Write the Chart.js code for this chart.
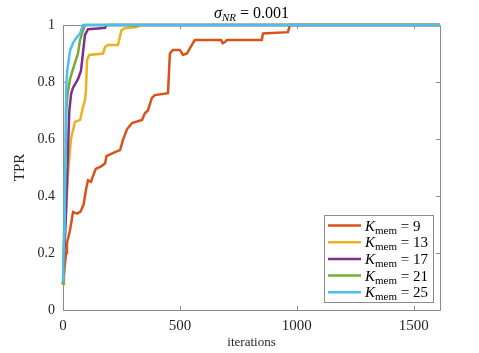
<!DOCTYPE html>
<html>
<head>
<meta charset="utf-8">
<script src="https://cdn.jsdelivr.net/npm/chart.js@4/dist/chart.umd.min.js"></script>
<style>
  html, body { margin: 0; padding: 0; background: #fff; }
</style>
</head>
<body>
<canvas id="tpr_chart" width="479" height="353"></canvas>
<script>
var kValues = [9, 13, 17, 21, 25];
var lineColors = ['#D95319', '#EDB120', '#7E2F8E', '#77AC30', '#4DBEEE'];
var xTicks = [0, 500, 1000, 1500];
var yTicks = [0, 0.2, 0.4, 0.6, 0.8, 1];
var xMax = 1612;

// iteration / TPR pairs
var k9Iter = [0, 13, 17, 30, 43, 60, 75, 88, 100, 107, 120, 128, 140, 165, 180, 186, 222, 244, 256, 274, 295, 338, 350, 363, 380, 393, 449, 457, 470, 500, 513, 530, 543, 556, 564, 676, 683, 692, 701, 850, 855, 962, 970, 1612];
var k9Tpr = [0.09, 0.2, 0.235, 0.28, 0.344, 0.338, 0.345, 0.37, 0.43, 0.455, 0.45, 0.47, 0.495, 0.505, 0.515, 0.54, 0.554, 0.561, 0.596, 0.635, 0.656, 0.667, 0.69, 0.70, 0.744, 0.754, 0.761, 0.90, 0.912, 0.912, 0.895, 0.90, 0.919, 0.937, 0.947, 0.947, 0.936, 0.94, 0.947, 0.947, 0.97, 0.975, 1.0, 1.0];

var k13Iter = [0, 4, 9, 21, 34, 51, 73, 85, 94, 98, 103, 112, 171, 180, 192, 235, 250, 265, 316, 330, 1612];
var k13Tpr = [0.09, 0.2, 0.28, 0.47, 0.6, 0.66, 0.667, 0.71, 0.737, 0.77, 0.877, 0.895, 0.90, 0.923, 0.93, 0.93, 0.982, 0.989, 0.993, 1.0, 1.0];

var k17Iter = [0, 13, 21, 27, 35, 43, 64, 77, 85, 94, 107, 150, 180, 185, 1612];
var k17Tpr = [0.09, 0.35, 0.55, 0.7, 0.76, 0.78, 0.81, 0.84, 0.90, 0.965, 0.985, 0.988, 0.99, 1.0, 1.0];

var k21Iter = [0, 9, 14, 20, 30, 51, 64, 73, 85, 94, 1612];
var k21Tpr = [0.09, 0.45, 0.7, 0.76, 0.81, 0.867, 0.90, 0.947, 0.98, 1.0, 1.0];

var k25Iter = [0, 1, 7, 9, 12, 15, 18, 30, 43, 56, 73, 85, 1612];
var k25Tpr = [0.1, 0.18, 0.28, 0.5, 0.7, 0.8, 0.84, 0.91, 0.937, 0.954, 0.97, 1.0, 1.0];

var iterLists = [k9Iter, k13Iter, k17Iter, k21Iter, k25Iter];
var tprLists = [k9Tpr, k13Tpr, k17Tpr, k21Tpr, k25Tpr];

var serif = "'Liberation Serif', 'Times New Roman', serif";
var axisGrey = '#262626';

function toPoints(iters, tprs) {
  var pts = [];
  for (var i = 0; i < iters.length; i++) {
    pts.push({ x: iters[i], y: tprs[i] });
  }
  return pts;
}

var datasets = [];
kValues.forEach(function (k, i) {
  datasets.push({
    label: 'K_mem = ' + k,
    kValue: k,
    data: toPoints(iterLists[i], tprLists[i]),
    borderColor: lineColors[i],
    borderWidth: 2.5,
    pointRadius: 0,
    tension: 0,
    fill: false,
    clip: 4,
    order: kValues.length - i   // last series drawn on top
  });
});

// draws text pieces one after another, some of them lowered as subscripts
function drawRuns(ctx, runs, x, y) {
  var cx = x;
  runs.forEach(function (r) {
    ctx.font = r.font;
    ctx.fillText(r.text, cx, y + (r.dy || 0));
    cx += ctx.measureText(r.text).width;
  });
  return cx;
}

function runsWidth(ctx, runs) {
  var w = 0;
  runs.forEach(function (r) {
    ctx.font = r.font;
    w += ctx.measureText(r.text).width;
  });
  return w;
}

var boxPlugin = {
  id: 'matlabBox',
  beforeDatasetsDraw: function (chart) {
    var ctx = chart.ctx;
    var a = chart.chartArea;
    var xs = chart.scales.x, ys = chart.scales.y;
    ctx.save();
    ctx.strokeStyle = '#8c8c8c';
    ctx.lineWidth = 1;
    ctx.beginPath();
    ctx.rect(Math.round(a.left) + 0.5, Math.round(a.top) + 0.5, Math.round(a.right - a.left), Math.round(a.bottom - a.top));
    ctx.stroke();
    var tl = 4;
    ctx.beginPath();
    xTicks.forEach(function (v) {
      var px = Math.round(xs.getPixelForValue(v)) + 0.5;
      ctx.moveTo(px, a.bottom); ctx.lineTo(px, a.bottom - tl);
      ctx.moveTo(px, a.top); ctx.lineTo(px, a.top + tl);
    });
    yTicks.forEach(function (v) {
      var py = Math.round(ys.getPixelForValue(v)) + 0.5;
      ctx.moveTo(a.left, py); ctx.lineTo(a.left + tl, py);
      ctx.moveTo(a.right, py); ctx.lineTo(a.right - tl, py);
    });
    ctx.stroke();
    ctx.restore();
  },
  afterDraw: function (chart) {
    var ctx = chart.ctx;
    var a = chart.chartArea;
    ctx.save();
    ctx.fillStyle = '#000';
    ctx.textBaseline = 'alphabetic';

    // title sigma_NR = 0.001
    var titleRuns = [
      { text: 'σ', font: 'italic 16px ' + serif },
      { text: 'NR', font: 'italic 11px ' + serif, dy: 3 },
      { text: ' = 0.001', font: '16px ' + serif }
    ];
    var tw = runsWidth(ctx, titleRuns);
    drawRuns(ctx, titleRuns, (a.left + a.right) / 2 - tw / 2, 18);

    // legend
    var lx = 324, ly = 215, lw = 109, lh = 87;
    ctx.fillStyle = '#fff';
    ctx.fillRect(lx, ly, lw, lh);
    ctx.strokeStyle = '#8c8c8c';
    ctx.lineWidth = 1;
    ctx.strokeRect(lx + 0.5, ly + 0.5, lw, lh);
    chart.data.datasets.forEach(function (ds, i) {
      var rowY = ly + 10.5 + i * 16.7;
      ctx.strokeStyle = ds.borderColor;
      ctx.lineWidth = 2.5;
      ctx.beginPath();
      ctx.moveTo(lx + 4, rowY);
      ctx.lineTo(lx + 37, rowY);
      ctx.stroke();
      ctx.fillStyle = '#000';
      drawRuns(ctx, [
        { text: 'K', font: 'italic 15px ' + serif },
        { text: 'mem', font: '11px ' + serif, dy: 3 },
        { text: ' = ' + ds.kValue, font: '15px ' + serif }
      ], lx + 41, rowY + 5);
    });
    ctx.restore();
  }
};

var ctx = document.getElementById('tpr_chart').getContext('2d');
var tprChart = new Chart(ctx, {
  type: 'line',
  data: { datasets: datasets },
  options: {
    responsive: false,
    animation: false,
    layout: { padding: { top: 25, right: 39, left: 0, bottom: 0 } },
    plugins: {
      legend: { display: false },
      tooltip: { enabled: false },
      title: { display: false }
    },
    scales: {
      x: {
        type: 'linear',
        min: 0,
        max: xMax,
        afterFit: function (s) { s.height = 43; },
        afterBuildTicks: function (s) { s.ticks = xTicks.map(function (v) { return { value: v }; }); },
        grid: { display: false, drawTicks: false },
        border: { display: false },
        ticks: { color: axisGrey, padding: 7, maxRotation: 0, font: { family: serif, size: 15 }, callback: function (v) { return String(v); } },
        title: { display: true, text: 'iterations', color: axisGrey, padding: { top: 0, bottom: 3 }, font: { family: serif, size: 13 } }
      },
      y: {
        type: 'linear',
        min: 0,
        max: 1,
        afterFit: function (s) { s.width = 63; },
        afterBuildTicks: function (s) { s.ticks = yTicks.map(function (v) { return { value: v }; }); },
        grid: { display: false, drawTicks: false },
        border: { display: false },
        ticks: { color: axisGrey, padding: 8, font: { family: serif, size: 14 }, callback: function (v) { return String(v); } },
        title: { display: true, text: 'TPR', color: axisGrey, padding: { top: 11, bottom: 0 }, font: { family: serif, size: 15 } }
      }
    }
  },
  plugins: [boxPlugin]
});
</script>
</body>
</html>
